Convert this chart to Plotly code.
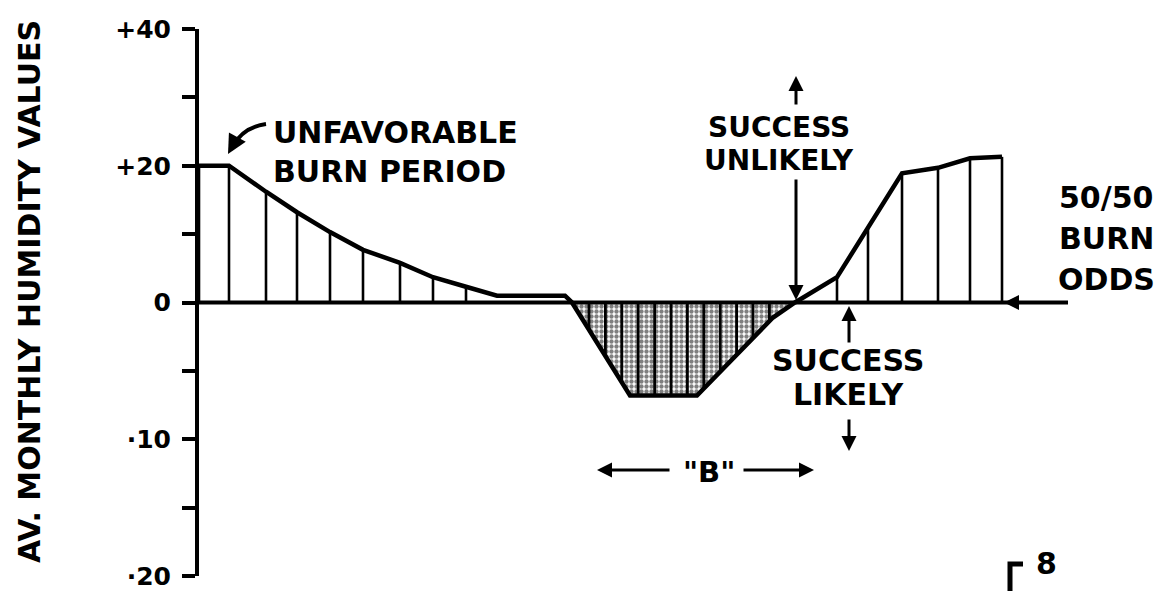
import numpy as np
import plotly.graph_objects as go

# Profile of average monthly humidity values along the season
period = [0.0, 3.0, 6.7, 9.8, 13.1, 16.4, 20.1, 23.4, 26.7, 29.8, 36.6, 37.3,
          43.1, 49.8, 57.4, 59.6, 63.8, 66.9, 70.3, 73.9, 77.1, 80.3]
humidity = [20, 20, 16.2, 13.2, 10.3, 7.7, 5.8, 3.7, 2.3, 1.0, 1.0, 0,
            -6.8, -6.8, -1.1, 0, 3.7, 10.9, 18.9, 19.7, 21.1, 21.3]

# Axis labels: the lower half of the scale is stretched two-fold
tick_labels = ["+40", "", "+20", "", "0", "", "\u00b710", "", "\u00b720"]
tick_values = [40, 30, 20, 10, 0, -10, -20, -30, -40]

FONT = "DejaVu Sans"
INK = "black"


def to_axis(v):
    v = np.asarray(v, dtype=float)
    return np.where(v >= 0, v, 2 * v)


px_per_x = 10.0
px_per_y = 547 / 80.0


def X(px):
    return (px - 199) / px_per_x


def Y(py):
    return (302.5 - py) / px_per_y


xa = np.array(period)
ya = to_axis(humidity)

fig = go.Figure()

# Stippled area below zero
neg = ya <= 0
i0 = int(np.argmax(neg))
i1 = len(neg) - 1 - int(np.argmax(neg[::-1]))
fx = list(xa[i0:i1 + 1])
fy = list(ya[i0:i1 + 1])
fig.add_trace(go.Scatter(
    x=fx + [fx[0]], y=fy + [0], mode="lines", fill="toself",
    line=dict(width=0, color=INK), fillcolor="white",
    fillpattern=dict(shape=".", fgcolor=INK, bgcolor="white", size=5, solidity=0.6),
    hoverinfo="skip", showlegend=False))

# Vertical rules inside the stippled area
rx = np.arange(fx[0] + 1.7, fx[-1] - 1.5, 1.64)
ry = np.interp(rx, xa, ya)
sx, sy = [], []
for a, b in zip(rx, ry):
    sx += [a, a, None]
    sy += [0, b, None]
fig.add_trace(go.Scatter(x=sx, y=sy, mode="lines", line=dict(color=INK, width=2.8),
                         hoverinfo="skip", showlegend=False))

# Vertical rules under the positive stretches
hx, hy = [], []
for a, b in zip(xa, ya):
    if b > 1.5:
        hx += [a, a, None]
        hy += [0, b, None]
fig.add_trace(go.Scatter(x=hx, y=hy, mode="lines", line=dict(color=INK, width=2.6),
                         hoverinfo="skip", showlegend=False))

# Profile line
fig.add_trace(go.Scatter(x=xa, y=ya, mode="lines", line=dict(color=INK, width=4.5),
                         hoverinfo="skip", showlegend=False))

shapes = [
    # zero baseline
    dict(type="line", xref="x", yref="y", x0=0, x1=X(1068), y0=0, y1=0,
         line=dict(color=INK, width=4)),
    # curved pointer to the end of the high plateau
    dict(type="path", xref="x", yref="y",
         path=f"M {X(266)},{Y(124)} Q {X(243)},{Y(127)} {X(232)},{Y(147)}",
         line=dict(color=INK, width=4)),
    # plate mark in the corner
    dict(type="path", xref="paper", yref="paper",
         path=f"M {(1010-199)/963},{-15/547} L {(1010-199)/963},{(576-564)/547} L {(1023-199)/963},{(576-564)/547}",
         line=dict(color=INK, width=5)),
]

ann = []


def text(x, y, s, size=29, xanchor="center"):
    ann.append(dict(x=X(x), y=Y(y), xref="x", yref="y", text=s, showarrow=False,
                    xanchor=xanchor, yanchor="middle",
                    font=dict(family=FONT, size=size, color=INK, weight="bold")))


def arrow(tipx, tipy, tailx, taily, head=2, size=1.0, width=3):
    ann.append(dict(x=X(tipx), y=Y(tipy), xref="x", yref="y", text="",
                    showarrow=True, ax=tailx - tipx, ay=taily - tipy,
                    axref="pixel", ayref="pixel",
                    arrowhead=head, arrowsize=size, arrowwidth=width,
                    arrowcolor=INK, standoff=0, startstandoff=0))


text(271, 132, "UNFAVORABLE", size=30, xanchor="left")
text(271, 171, "BURN PERIOD", size=30, xanchor="left")
arrow(228, 154, 233, 145, size=1.1, width=3.5)

text(779, 127, "SUCCESS", size=28)
text(779, 160, "UNLIKELY", size=28)
arrow(796, 76, 796, 106)
arrow(796, 300, 796, 178)

text(848, 360, "SUCCESS", size=30)
text(848, 394, "LIKELY", size=30)
arrow(849, 306, 849, 344)
arrow(849, 451, 849, 418)

text(1106, 197, "50/50", size=30)
text(1106, 238, "BURN", size=30)
text(1106, 279, "ODDS", size=30)
arrow(1004, 302.5, 1068, 302.5)

text(709, 472, '"B"', size=29)
arrow(597, 470, 671, 470)
arrow(814, 470, 742, 470)

ann.append(dict(x=(1046 - 199) / 963, y=(576 - 563) / 547, xref="paper", yref="paper",
                text="8", showarrow=False, xanchor="center", yanchor="middle",
                font=dict(family=FONT, size=30, color=INK, weight="bold")))

# Axis title
ann.append(dict(x=-(199 - 30) / 963, y=(302.5 - 292) / 547 + 0.5, xref="paper", yref="paper",
                text="AV. MONTHLY HUMIDITY VALUES", showarrow=False, textangle=-90,
                xanchor="center", yanchor="middle",
                font=dict(family=FONT, size=30, color=INK, weight="bold")))

fig.update_layout(
    width=1162, height=591,
    margin=dict(l=199, r=0, t=29, b=15),
    paper_bgcolor="white", plot_bgcolor="white",
    shapes=shapes, annotations=ann,
    xaxis=dict(range=[0, 96.3], visible=False, fixedrange=True),
    yaxis=dict(range=[-40, 40], tickvals=tick_values, ticktext=tick_labels,
               showline=True, linewidth=4, linecolor=INK, ticks="outside",
               ticklen=13, tickwidth=3.5, tickcolor=INK, showgrid=False,
               zeroline=False, ticklabelstandoff=6,
               tickfont=dict(family=FONT, size=25, color=INK, weight="bold")),
)

fig.write_html("out.html")
